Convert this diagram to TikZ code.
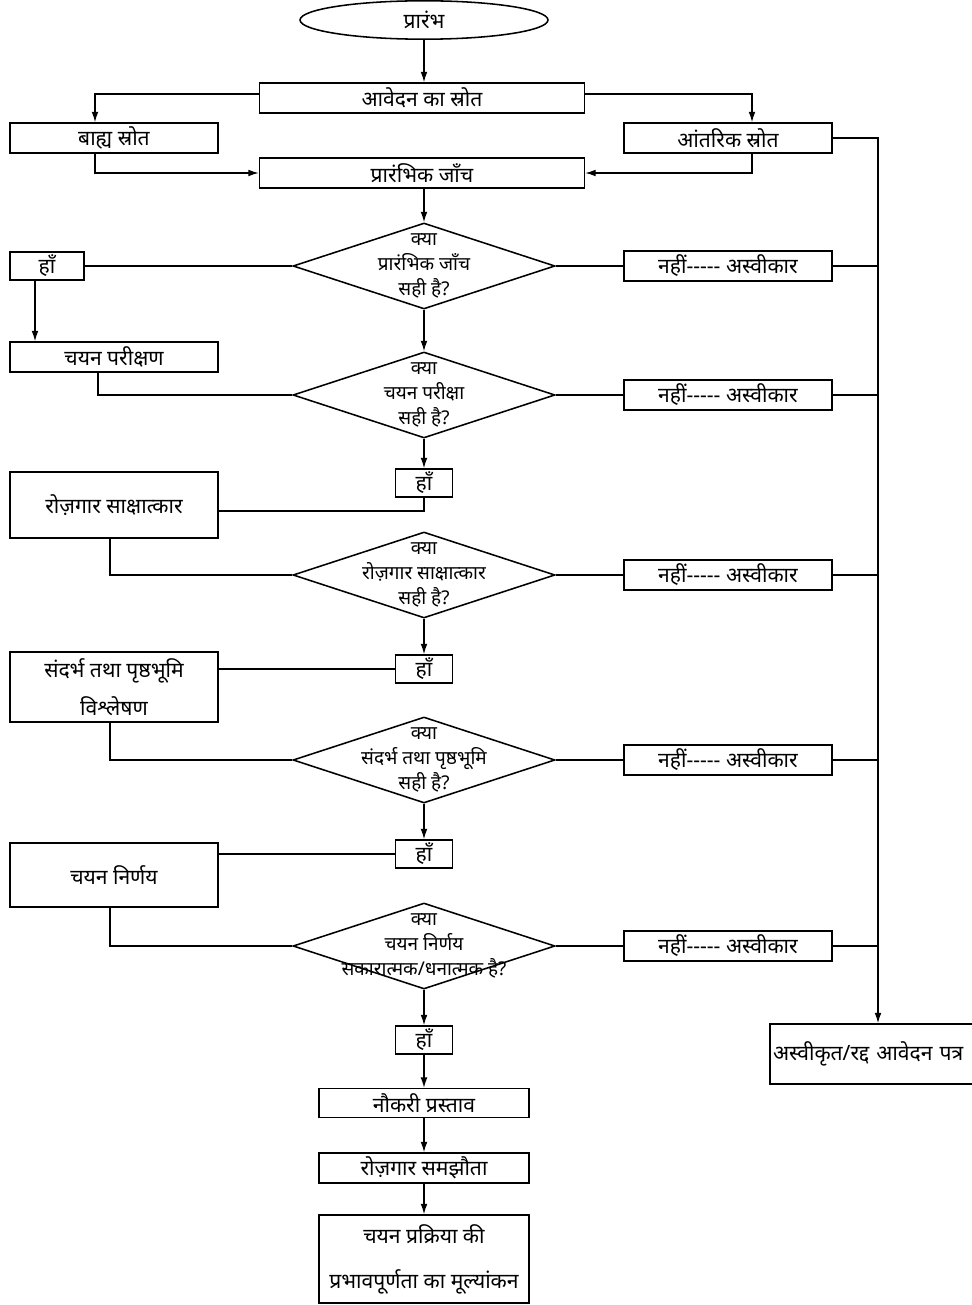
\documentclass[tikz,border=0pt]{standalone}
\usepackage{fontspec}
\newfontfamily\hindi[Script=Devanagari]{Noto Sans}
\usepackage{tikz}
\usetikzlibrary{positioning,arrows.meta,calc,shapes.geometric}

\begin{document}
\begin{tikzpicture}[font={\hindi\fontsize{15}{19}\selectfont}, line width=0.9pt,
  box/.style={draw, line width=1.1pt, minimum height=0.75cm, align=center, inner sep=2pt},
  wide/.style={box, minimum width=8.125cm},
  side/.style={box, minimum width=5.2cm},
  yesbox/.style={box, minimum width=1.425cm, minimum height=0.7cm},
  decision/.style={draw, diamond, line width=1.1pt, minimum width=6.55cm, minimum height=2.15cm, inner sep=0pt},
  qtext/.style={align=center, font={\hindi\fontsize{13.5}{18}\selectfont}},
  arr/.style={-{Latex[length=2.6mm,width=1.7mm]}}]
\useasboundingbox (0,0) rectangle (24.275,-32.625);

% top part
\node[draw, ellipse, line width=1.1pt, minimum width=6.2cm, minimum height=0.8cm] (start) at (10.6,-0.5) {प्रारंभ};
\node[wide] (src) at (10.55,-2.45) {आवेदन का स्रोत};
\node[side] (ext) at (2.85,-3.45) {बाह्य स्रोत};
\node[side] (int) at (18.2,-3.45) {आंतरिक स्रोत};
\node[wide] (prelim) at (10.55,-4.325) {प्रारंभिक जाँच};

% checks
\node[decision] (q1) at (10.6,-6.65) {};
\node[qtext] (q1t) at (q1) {क्या\\प्रारंभिक जाँच\\सही है?};
\node[yesbox, minimum width=1.85cm] (yes1) at (1.175,-6.65) {हाँ};
\node[side] (test) at (2.85,-8.925) {चयन परीक्षण};

\node[decision] (q2) at (10.6,-9.875) {};
\node[qtext] (q2t) at (q2) {क्या\\चयन परीक्षा\\सही है?};
\node[yesbox] (yes2) at (10.6,-12.075) {हाँ};
\node[side, minimum height=1.65cm] (intv) at (2.85,-12.625) {रोज़गार साक्षात्कार};

\node[decision] (q3) at (10.6,-14.375) {};
\node[qtext] (q3t) at (q3) {क्या\\रोज़गार साक्षात्कार\\सही है?};
\node[yesbox] (yes3) at (10.6,-16.725) {हाँ};
\node[side, minimum height=1.75cm] (ref) at (2.85,-17.175) {संदर्भ तथा पृष्ठभूमि\\[8pt]विश्लेषण};

\node[decision] (q4) at (10.6,-19.0) {};
\node[qtext] (q4t) at (q4) {क्या\\संदर्भ तथा पृष्ठभूमि\\सही है?};
\node[yesbox] (yes4) at (10.6,-21.35) {हाँ};
\node[side, minimum height=1.6cm] (dec) at (2.85,-21.875) {चयन निर्णय};

\node[decision] (q5) at (10.6,-23.65) {};
\node[qtext] (q5t) at (q5) {क्या\\चयन निर्णय\\सकारात्मक/धनात्मक है?};
\node[yesbox] (yes5) at (10.6,-26.0) {हाँ};

% rejections
\node[side] (no1) at (18.2,-6.65) {नहीं----- अस्वीकार};
\node[side] (no2) at (18.2,-9.875) {नहीं----- अस्वीकार};
\node[side] (no3) at (18.2,-14.375) {नहीं----- अस्वीकार};
\node[side] (no4) at (18.2,-19.0) {नहीं----- अस्वीकार};
\node[side] (no5) at (18.2,-23.65) {नहीं----- अस्वीकार};
\node[box, align=left, text width=5.25cm, minimum height=1.5cm] (rej) at (21.95,-26.35) {अस्वीकृत/रद्द आवेदन पत्र\\[6pt]};
\coordinate (bus) at (21.95,0);

% final steps
\node[box, minimum width=5.25cm, minimum height=0.72cm] (offer) at (10.6,-27.575) {नौकरी प्रस्ताव};
\node[box, minimum width=5.25cm] (agree) at (10.6,-29.2) {रोज़गार समझौता};
\node[box, minimum width=5.25cm, minimum height=2.2cm] (eval) at (10.6,-31.475) {चयन प्रक्रिया की\\[13pt]प्रभावपूर्णता का मूल्यांकन};

% connectors
\draw[arr] (start) -- (start |- src.north);
\draw[arr] ([yshift=0.1cm]src.west) -| ([xshift=-0.475cm]ext.north);
\draw[arr] ([yshift=0.1cm]src.east) -| ([xshift=0.6cm]int.north);
\draw[arr] ([xshift=-0.475cm]ext.south) |- (prelim.west);
\draw[arr] ([xshift=0.6cm]int.south) |- (prelim.east);
\draw[arr] (prelim.south -| q1) -- (q1);
\draw (q1.west) -- (yes1.east);
\coordinate (y1d) at ([xshift=-0.3cm]yes1.south);
\draw[arr] (y1d) -- (y1d |- test.north);
\draw[arr] (q1) -- (q2);
\draw ([xshift=-0.4cm]test.south) |- (q2.west);
\draw[arr] (q2) -- (yes2);
\draw (yes2.south) |- ([yshift=-0.15cm]intv.east);
\draw ([xshift=-0.1cm]intv.south) |- (q3.west);
\draw[arr] (q3) -- (yes3);
\draw (yes3.west) -- (yes3.west -| ref.east);
\draw ([xshift=-0.1cm]ref.south) |- (q4.west);
\draw[arr] (q4) -- (yes4);
\draw (yes4.west) -- (yes4.west -| dec.east);
\draw ([xshift=-0.1cm]dec.south) |- (q5.west);
\draw[arr] (q5) -- (yes5);
\draw[arr] (yes5) -- (offer);
\draw[arr] (offer) -- (agree);
\draw[arr] (agree) -- (eval);
\foreach \i in {1,...,5}{
  \draw (q\i.east) -- (no\i.west);
  \draw (no\i.east) -- (no\i.east -| bus);
}
\draw[arr] (int.east) -| (rej.north);
\end{tikzpicture}
\end{document}
